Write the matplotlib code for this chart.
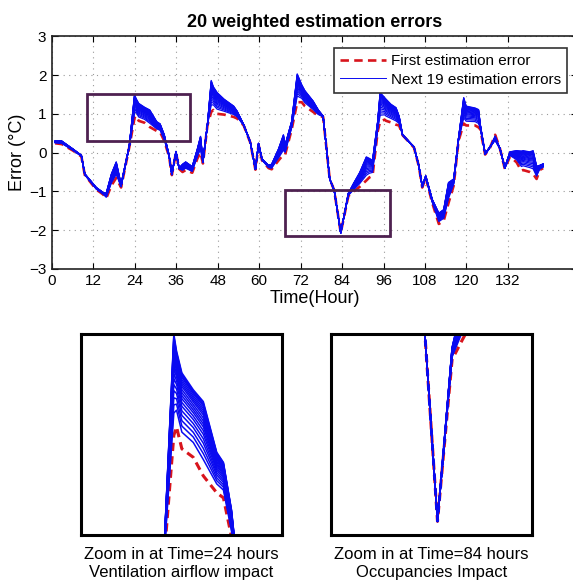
import numpy as np
import matplotlib
matplotlib.use("Agg")
import matplotlib.pyplot as plt
from matplotlib.patches import Rectangle

plt.rcParams['font.family'] = ['Liberation Sans', 'DejaVu Sans']

# hour, first estimation error, outermost of the next 19 errors
hours = [0.9, 2.8, 6.1, 8.5, 9.5, 12.8, 14.8, 15.7, 17.2, 18.6, 20.0, 22.4,
         23.9, 24.3, 25.1, 26.8, 28.3, 30.3, 31.3, 32.5, 33.9, 34.7, 35.9, 36.8,
         37.8, 38.7, 40.6, 42.1, 43.0, 43.7, 45.0, 46.1, 46.7, 47.8, 49.8, 52.6,
         53.6, 55.5, 57.4, 58.9, 59.8, 60.8, 62.7, 63.6, 65.6, 67.0, 67.5, 69.4,
         71.0, 72.3, 73.2, 75.6, 77.1, 78.5, 80.4, 81.7, 83.6, 85.8, 87.4, 89.1,
         91.0, 91.9, 92.8, 94.3, 95.0, 96.3, 96.7, 98.1, 99.6, 100.5, 101.5, 104.8,
         106.2, 107.2, 108.2, 110.1, 112.0, 113.4, 114.8, 116.3, 117.7, 119.2, 119.9, 122.5,
         123.5, 124.0, 125.4, 126.8, 128.3, 129.7, 131.1, 132.6, 134.5, 135.9, 136.4, 138.3,
         139.3, 140.3, 141.2, 142.2]
first_err = [0.24, 0.22, 0.05, -0.10, -0.58, -0.95, -1.08, -1.18, -0.85, -0.65, -0.90, 0.15,
             0.90, 0.95, 0.82, 0.77, 0.66, 0.56, 0.53, 0.30, -0.10, -0.58, 0.00, -0.42,
             -0.50, -0.45, -0.52, -0.15, 0.00, -0.28, 0.70, 1.05, 1.10, 1.00, 0.98, 0.92,
             0.88, 0.70, 0.26, -0.44, 0.20, -0.20, -0.40, -0.43, -0.20, -0.05, -0.05, 0.60,
             1.30, 1.30, 1.20, 1.05, 0.95, 0.92, -0.68, -0.97, -2.07, -1.12, -1.00, -0.88,
             -0.72, -0.64, -0.60, 0.55, 0.80, 0.85, 0.82, 0.78, 0.72, 0.70, 0.45, 0.13,
             -0.35, -0.90, -0.65, -1.30, -1.84, -1.76, -1.30, -0.85, 0.30, 0.75, 0.70, 0.70,
             0.65, 0.60, -0.05, 0.12, 0.46, 0.10, -0.42, -0.10, -0.25, -0.47, -0.45, -0.50,
             -0.55, -0.68, -0.45, -0.40]
last_err = [0.30, 0.30, 0.09, -0.07, -0.55, -0.90, -1.03, -1.05, -0.55, -0.24, -0.82, 0.19,
            1.50, 1.40, 1.27, 1.17, 1.10, 0.80, 0.74, 0.46, -0.07, -0.55, 0.03, -0.40,
            -0.30, -0.24, -0.36, 0.10, 0.42, -0.20, 0.72, 1.86, 1.70, 1.55, 1.38, 1.20,
            1.07, 0.72, 0.28, -0.42, 0.24, -0.16, -0.33, -0.30, 0.10, 0.46, 0.20, 0.81,
            2.03, 1.75, 1.60, 1.33, 1.10, 0.94, -0.68, -0.97, -2.07, -1.05, -0.78, -0.51,
            -0.11, -0.15, -0.20, 0.81, 1.55, 1.42, 1.38, 1.25, 1.16, 0.94, 0.46, 0.15,
            -0.33, -0.86, -0.60, -1.21, -1.56, -1.47, -0.77, -0.68, 0.37, 1.42, 1.20, 1.15,
            1.11, 0.72, -0.03, 0.15, 0.32, 0.10, -0.38, 0.02, 0.05, 0.04, 0.05, 0.02,
            0.05, -0.35, -0.33, -0.29]
# weights of the next 19 estimates between the first and the outermost one
weights = [0.22, 0.30, 0.37, 0.44, 0.50, 0.56, 0.61, 0.66, 0.70, 0.74,
           0.78, 0.82, 0.85, 0.88, 0.91, 0.94, 0.96, 0.98, 1.00]

hours = np.array(hours)
first_err = np.array(first_err)
last_err = np.array(last_err)
next_errs = [first_err + w * (last_err - first_err) for w in weights]

red = '#d8141c'
blue = '#0a0af0'
box_purple = '#4e2150'

fig = plt.figure(figsize=(5.73, 5.84), dpi=100)

ax = fig.add_axes([52/573, 1 - 268.9/584, 525/573, 232.6/584])
ax.plot(hours, first_err, color=red, lw=1.9, dashes=(3.2, 2.0),
        label='First estimation error')
for i, e in enumerate(next_errs):
    ax.plot(hours, e, color=blue, lw=0.9,
            label='Next 19 estimation errors' if i == 0 else None)
ax.set_xlim(0, 152)
ax.set_ylim(-3, 3)
ax.set_xticks(np.arange(0, 133, 12))
ax.set_yticks(np.arange(-3, 4, 1))
ax.tick_params(direction='in', length=4, labelsize=11, top=True, right=True, pad=4)
ax.grid(True, color='#9a9a9a', linestyle=(0, (1, 4)), lw=0.8)
for s in ax.spines.values():
    s.set_linewidth(1.2)
    s.set_color('#222222')
ax.set_title('20 weighted estimation errors', fontsize=13, fontweight='bold', pad=7)
ax.set_xlabel('Time(Hour)', fontsize=13, labelpad=1)
ax.set_ylabel('Error (°C)', fontsize=13, labelpad=2)

leg = ax.legend(loc='upper right', bbox_to_anchor=(0.981, 0.95), borderaxespad=0,
                fontsize=11, handlelength=3.0, handletextpad=0.3, labelspacing=0.3,
                fancybox=False, framealpha=1, edgecolor='#333333', borderpad=0.4)
leg.get_frame().set_linewidth(1.2)
leg.get_lines()[1].set_linewidth(0.7)

# zoom regions marked on the main axes
zoom_boxes = [(10, 40, 0.31, 1.50), (67.5, 97.8, -2.15, -0.97)]
for x0, x1, y0, y1 in zoom_boxes:
    ax.add_patch(Rectangle((x0, y0), x1 - x0, y1 - y0, fill=False,
                           edgecolor=box_purple, lw=2.0, zorder=5))

captions = [('Zoom in at Time=24 hours', 'Ventilation airflow impact'),
            ('Zoom in at Time=84 hours', 'Occupancies Impact')]
inset_left = [80.7/573, 330.7/573]
for (x0, x1, y0, y1), left, (c1, c2) in zip(zoom_boxes, inset_left, captions):
    iax = fig.add_axes([left, 1 - 535/584, 201/573, 201/584])
    iax.plot(hours, first_err, color=red, lw=2.2, dashes=(2.7, 1.7))
    for e in next_errs:
        iax.plot(hours, e, color=blue, lw=1.1)
    iax.set_xlim(x0, x1)
    iax.set_ylim(y0, y1)
    iax.set_xticks([])
    iax.set_yticks([])
    for s in iax.spines.values():
        s.set_linewidth(2.2)
        s.set_color('black')
    cx = left + 100.5/573
    fig.text(cx, 1 - 559.3/584, c1, ha='center', va='baseline', fontsize=12)
    fig.text(cx, 1 - 576.7/584, c2, ha='center', va='baseline', fontsize=12)

fig.savefig('out.png', dpi=100)
